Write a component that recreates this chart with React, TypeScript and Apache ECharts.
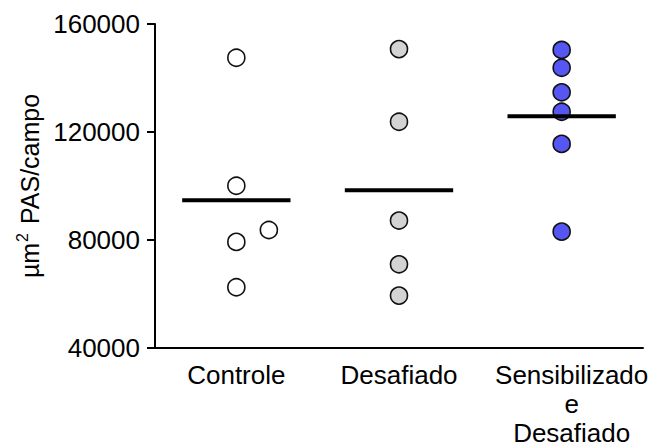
import React, { useEffect, useRef } from "react";
import * as echarts from "echarts";

const categories = ["Controle", "Desafiado", "Sensibilizado\ne\nDesafiado"];
const controle = [147500, 100100, 79300, 62500, 83700];
const controleJitter = [0, 0, 0, 0, 0.2];
const desafiado = [150700, 123800, 87200, 71000, 59400];
const desafiadoJitter = [0, 0, 0, 0, 0];
const sensibilizado = [150400, 143800, 134700, 127500, 115600, 83100];
const sensibilizadoJitter = [0, 0, 0, 0, 0, 0];
const means = [94700, 98400, 125800];
const yTicks = [40000, 80000, 120000, 160000];

const FONT = "Liberation Sans, Arial, sans-serif";

export default function App() {
  const ref = useRef<HTMLDivElement>(null);
  useEffect(() => {
    if (!ref.current) return;
    const chart = echarts.init(ref.current, null, { renderer: "svg" });
    const pts = (vals: number[], jit: number[], idx: number) =>
      vals.map((v, i) => [idx + 0.5 + jit[i], v]);
    const half = 0.333;
    const meanSeries = means.map((m, i) => ({
      type: "line",
      data: [
        [i + 0.5 - half, m],
        [i + 0.5 + half, m],
      ],
      symbol: "none",
      lineStyle: { color: "#000", width: 4 },
      z: 5,
      silent: true,
    }));
    const scatter = (data: number[][], color: string) => ({
      type: "scatter",
      data,
      symbol: "circle",
      symbolSize: 17,
      itemStyle: { color, borderColor: "#111", borderWidth: 1.6, opacity: 1 },
      z: 3,
    });
    const labelStyle = { fontFamily: FONT, fontSize: 26, color: "#000", lineHeight: 29 };
    chart.setOption({
      animation: false,
      grid: { left: 155, right: 9, top: 24, bottom: 100 },
      xAxis: {
        type: "value",
        min: 0,
        max: 3,
        interval: 0.5,
        splitLine: { show: false },
        axisTick: { show: false },
        axisLine: { show: true, lineStyle: { color: "#000", width: 2 } },
        axisLabel: {
          show: true,
          showMinLabel: true,
          showMaxLabel: true,
          margin: 12,
          fontFamily: FONT,
          fontSize: 26,
          color: "#000",
          lineHeight: 29,
          align: "center",
          rich: {
            n: { ...labelStyle },
            r: { ...labelStyle, padding: [0, 0, 0, 20] },
          },
          formatter: (v: number) => {
            const k = Math.round(v * 2);
            if (k % 2 === 1) {
              const idx = (k - 1) / 2;
              const style = idx === 2 ? "r" : "n";
              return categories[idx]
                .split("\n")
                .map((s) => `{${style}|${s}}`)
                .join("\n");
            }
            return "";
          },
        },
      },
      yAxis: {
        type: "value",
        min: yTicks[0],
        max: yTicks[yTicks.length - 1],
        interval: 40000,
        splitLine: { show: false },
        axisLine: { show: true, lineStyle: { color: "#000", width: 2 } },
        axisTick: { show: true, length: 8, lineStyle: { color: "#000", width: 2 } },
        axisLabel: {
          margin: 15,
          fontFamily: FONT,
          fontSize: 26,
          color: "#000",
          formatter: (v: number) => String(v),
        },
        name: "{a|µm}{s|2}{a| PAS/campo}",
        nameLocation: "middle",
        nameGap: 108,
        nameRotate: 90,
        nameTextStyle: {
          fontFamily: FONT,
          color: "#000",
          rich: {
            a: { fontFamily: FONT, fontSize: 25, color: "#000", lineHeight: 28, verticalAlign: "bottom" },
            s: { fontFamily: FONT, fontSize: 16, color: "#000", lineHeight: 28, verticalAlign: "top", padding: [0, 2, 0, 1] },
          },
        },
      },
      series: [
        scatter(pts(controle, controleJitter, 0), "#ffffff"),
        scatter(pts(desafiado, desafiadoJitter, 1), "#d3d3d3"),
        scatter(pts(sensibilizado, sensibilizadoJitter, 2), "#5656f2"),
        ...meanSeries,
      ],
    });
    return () => chart.dispose();
  }, []);
  return <div ref={ref} style={{ width: 652, height: 448, position: "absolute", left: 0, top: 0 }} />;
}
